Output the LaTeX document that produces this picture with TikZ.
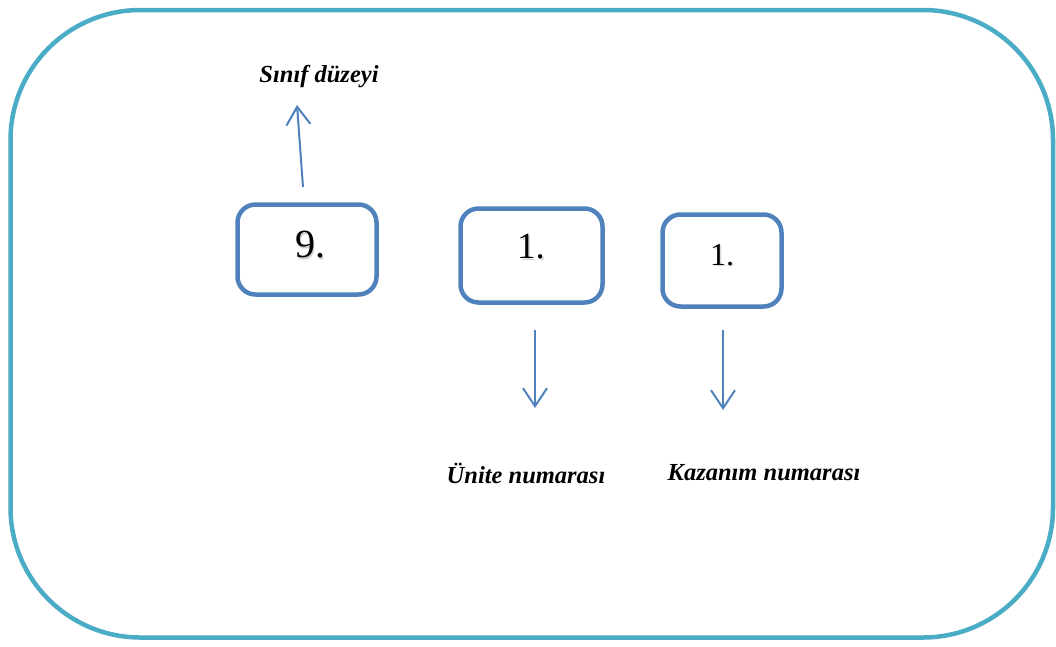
\documentclass[tikz,border=0pt]{standalone}
\usepackage{fontspec}
\setmainfont{Liberation Serif}
\usetikzlibrary{arrows.meta}
\definecolor{frame}{HTML}{4BACC6}
\definecolor{boxblue}{HTML}{4F81BD}
\begin{document}
\begin{tikzpicture}[x=1pt,y=-1pt,
  numbox/.style={draw=boxblue,line width=4.5pt,rounded corners=18pt,inner sep=0pt},
  numtext/.style={font=\rmfamily\fontsize{#1}{#1}\selectfont},
  lbl/.style={font=\rmfamily\fontsize{24.5}{24.5}\selectfont\bfseries\itshape},
  arr/.style={draw=boxblue,line width=2pt,-{Straight Barb[length=18pt,width=24pt,line width=2pt]}}]
\useasboundingbox (0,0) rectangle (1056,646);
\draw[frame,line width=4.5pt,rounded corners=130pt] (10.5,10) rectangle (1053,637.5);
% boxes
\node[numbox,minimum width=139pt,minimum height=90pt] (b1) at (307,249.5) {};
\node[numbox,minimum width=142pt,minimum height=94pt] (b2) at (531.5,255.5) {};
\node[numbox,minimum width=119pt,minimum height=92pt] (b3) at (722,260.5) {};
% digit texts with soft shadow
\node[numtext=40,text=black!20] at (311.5,246.5) {9.};
\node[numtext=40] (t1) at (310,245) {9.};
\node[numtext=37,text=black!15] at (532.5,248.5) {1.};
\node[numtext=37] (t2) at (531,247) {1.};
\node[numtext=32,text=black!15] at (723.5,256.5) {1.};
\node[numtext=32] (t3) at (722,255) {1.};
% labels
\node[lbl] (l1) at (319,77) {Sınıf düzeyi};
\node[lbl] (l2) at (526,473) {Ünite numarası};
\node[lbl] (l3) at (764,473) {Kazanım numarası};
% arrows
\coordinate (a1s) at (303,187); \coordinate (a1e) at (297,105);
\coordinate (a2s) at (535,330); \coordinate (a2e) at (535,408);
\coordinate (a3s) at (723,330); \coordinate (a3e) at (723,410);
\draw[arr] (a1s) -- (a1e);
\draw[arr] (a2s) -- (a2e);
\draw[arr] (a3s) -- (a3e);
\end{tikzpicture}
\end{document}
